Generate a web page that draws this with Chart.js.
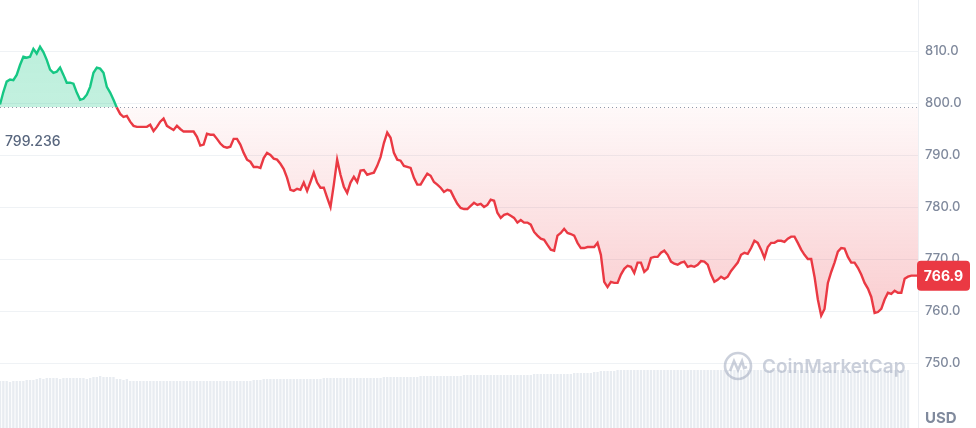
<!DOCTYPE html>
<html>
<head>
<meta charset="utf-8">
<script src="https://cdn.jsdelivr.net/npm/chart.js@4.4.1/dist/chart.umd.min.js"></script>
<style>
  html, body { margin: 0; padding: 0; background: #fff; }
  #wrap { position: relative; width: 976px; height: 428px; }
</style>
</head>
<body>
<div id="wrap"><canvas id="priceChart"></canvas></div>
<script>
// ——— DATA ———
const openPrice = 799.236;
const lastPrice = 766.9;
const currency = 'USD';
const tickValues = [750, 760, 770, 780, 790, 800, 810];
const yMin = 737.6;
const yMax = 819.9;

const prices = [
    799.8, 802.2, 804.2, 804.6, 804.5, 805.5, 807.4, 809.0, 808.8, 809.0, 810.5, 809.6, 810.9, 809.9, 808.4,
    806.5, 805.9, 806.1, 806.9, 805.5, 804.0, 804.0, 803.8, 802.1, 800.7, 800.9, 801.7, 803.2, 805.9, 806.9,
    806.7, 805.9, 803.2, 802.1, 800.7, 799.2, 798.0, 797.4, 797.6, 796.5, 795.7, 795.5, 795.5, 795.5, 795.5,
    795.9, 794.7, 795.5, 796.5, 797.1, 795.7, 795.3, 794.9, 795.7, 795.1, 794.6, 794.6, 794.6, 794.6, 793.6,
    791.9, 792.1, 794.2, 794.0, 794.0, 793.2, 792.3, 791.7, 791.5, 791.7, 793.2, 793.2, 792.1, 790.5, 789.2,
    788.8, 787.8, 787.8, 787.6, 789.5, 790.5, 790.1, 789.4, 789.2, 788.4, 787.4, 785.7, 783.4, 783.2, 783.6,
    783.4, 784.8, 783.2, 784.9, 786.7, 784.8, 783.8, 783.8, 781.9, 780.1, 784.4, 789.2, 786.3, 784.0, 782.8,
    784.8, 785.9, 784.9, 787.1, 787.2, 786.3, 786.5, 786.7, 788.0, 789.7, 792.4, 794.4, 793.4, 790.5, 789.2,
    789.0, 788.0, 787.8, 787.6, 785.7, 784.4, 784.4, 785.5, 786.5, 786.1, 784.9, 784.4, 783.8, 783.0, 783.4,
    783.2, 781.9, 780.7, 779.9, 779.7, 779.7, 780.3, 780.9, 780.5, 780.7, 780.1, 780.5, 781.5, 781.3, 779.0,
    778.0, 778.6, 778.8, 778.4, 778.0, 777.1, 777.6, 777.1, 777.1, 776.7, 775.3, 774.6, 774.0, 773.8, 772.8,
    771.9, 771.7, 774.6, 775.1, 775.9, 775.1, 774.9, 774.6, 773.2, 772.2, 772.2, 772.4, 772.4, 772.4, 773.2,
    770.9, 765.7, 764.7, 765.7, 765.5, 765.5, 767.1, 768.2, 768.8, 768.6, 767.4, 769.4, 769.4, 767.6, 768.2,
    770.3, 770.5, 770.5, 771.3, 771.7, 770.9, 769.6, 769.2, 769.0, 769.4, 769.6, 768.6, 768.8, 768.6, 769.0,
    769.7, 769.6, 769.0, 767.1, 765.7, 766.1, 766.7, 766.3, 766.7, 767.8, 768.6, 769.4, 770.9, 771.3, 771.1,
    772.2, 773.6, 773.2, 771.9, 770.3, 772.4, 773.2, 773.2, 773.6, 773.6, 773.4, 774.0, 774.4, 774.4, 773.2,
    771.9, 770.9, 770.1, 770.1, 766.7, 762.3, 759.2, 760.5, 765.5, 767.6, 769.4, 771.5, 772.2, 772.1, 770.5,
    769.4, 769.4, 768.4, 767.1, 765.5, 764.4, 762.8, 759.7, 759.9, 760.5, 762.3, 763.6, 763.4, 764.0, 763.6,
    763.6, 766.3, 766.7, 766.9, 766.9, 766.9
];

// volume, millions
const volumes = [
    4.7, 4.7, 4.7, 4.6, 4.7, 4.7, 4.7, 4.7, 4.8, 4.8, 4.8, 4.9, 5.0, 4.9, 5.0,
    5.0, 5.0, 5.0, 4.9, 5.0, 5.0, 5.0, 5.0, 5.0, 5.0, 5.0, 4.9, 5.0, 5.1, 5.1,
    5.2, 5.1, 5.1, 5.1, 5.1, 4.9, 4.9, 4.8, 4.9, 4.7, 4.7, 4.7, 4.7, 4.7, 4.7,
    4.7, 4.7, 4.7, 4.7, 4.7, 4.7, 4.7, 4.7, 4.7, 4.7, 4.7, 4.7, 4.7, 4.7, 4.7,
    4.7, 4.7, 4.7, 4.7, 4.7, 4.7, 4.7, 4.7, 4.7, 4.7, 4.7, 4.7, 4.7, 4.7, 4.7,
    4.7, 4.8, 4.8, 4.8, 4.9, 4.9, 4.9, 4.9, 4.9, 4.9, 4.9, 4.9, 4.9, 4.9, 4.9,
    4.9, 4.9, 4.9, 4.9, 4.9, 4.9, 4.9, 5.0, 5.0, 5.0, 5.0, 5.0, 5.0, 5.0, 5.0,
    5.0, 5.0, 5.0, 5.0, 5.0, 5.0, 5.0, 5.0, 5.0, 5.0, 5.1, 5.1, 5.1, 5.1, 5.1,
    5.1, 5.1, 5.1, 5.1, 5.1, 5.1, 5.2, 5.2, 5.2, 5.2, 5.2, 5.2, 5.2, 5.2, 5.2,
    5.2, 5.2, 5.2, 5.2, 5.3, 5.3, 5.3, 5.3, 5.3, 5.3, 5.3, 5.3, 5.3, 5.3, 5.3,
    5.3, 5.3, 5.3, 5.3, 5.3, 5.3, 5.3, 5.3, 5.3, 5.3, 5.4, 5.4, 5.4, 5.4, 5.4,
    5.4, 5.4, 5.4, 5.4, 5.4, 5.4, 5.4, 5.5, 5.5, 5.5, 5.5, 5.5, 5.5, 5.6, 5.6,
    5.7, 5.7, 5.7, 5.7, 5.7, 5.8, 5.8, 5.8, 5.8, 5.8, 5.8, 5.8, 5.8, 5.8, 5.8,
    5.8, 5.8, 5.8, 5.8, 5.8, 5.8, 5.8, 5.8, 5.8, 5.8, 5.8, 5.8, 5.8, 5.8, 5.8,
    5.8, 5.8, 5.8, 5.8, 5.8, 5.8, 5.8, 5.8, 5.8, 5.8, 5.8, 5.8, 5.8, 5.8, 5.8,
    5.8, 5.8, 5.8, 5.8, 5.8, 5.8, 5.8, 5.8, 5.8, 5.8, 5.8, 5.8, 5.8, 5.8, 5.8,
    5.8, 5.8, 5.8, 5.8, 5.8, 5.8, 5.8, 5.8, 5.8, 5.8, 5.8, 5.8, 5.8, 5.8, 5.8,
    5.8, 5.8, 5.8, 5.8, 5.8, 5.8, 5.8, 5.8, 5.8, 5.8, 5.8, 5.8, 5.8, 5.8, 5.8,
    5.8, 5.8, 5.8, null, null, null
];

// 5-minute steps across the day
const times = prices.map((_, i) => {
    const m = i * 5;
    return String(Math.floor(m / 60)).padStart(2, '0') + ':' + String(m % 60).padStart(2, '0');
});

// ——— COLOURS ———
const GREEN = '#16c784';
const RED = '#ea3943';
const GREY = '#808a9d';

function splitGradient(chart, top, bottomColors) {
    const { ctx, chartArea, scales } = chart;
    const g = ctx.createLinearGradient(0, chartArea.top, 0, chartArea.bottom);
    const h = chartArea.bottom - chartArea.top;
    const f = Math.min(Math.max((scales.y.getPixelForValue(openPrice) - chartArea.top) / h, 0), 1);
    const f2 = Math.min(Math.max((scales.y.getPixelForValue(760) - chartArea.top) / h, f), 1);
    g.addColorStop(0, top[0]);
    g.addColorStop(f, top[1]);
    g.addColorStop(f, bottomColors[0]);
    g.addColorStop(f2, bottomColors[1]);
    g.addColorStop(1, bottomColors[2]);
    return g;
}

// ——— OVERLAY ———
const overlay = {
    id: 'overlay',
    afterDatasetsDraw(chart) {
        const { ctx, chartArea, scales } = chart;
        const yb = scales.y.getPixelForValue(openPrice);
        ctx.save();
        // open price dotted line
        ctx.strokeStyle = '#8f98a8';
        ctx.lineWidth = 1;
        ctx.setLineDash([1, 3]);
        ctx.beginPath();
        ctx.moveTo(chartArea.left, Math.round(yb) + 0.5);
        ctx.lineTo(chartArea.right, Math.round(yb) + 0.5);
        ctx.stroke();
        ctx.setLineDash([]);

        // open price label
        ctx.fillStyle = '#58667e';
        ctx.font = '500 14px Inter';
        ctx.textBaseline = 'middle';
        ctx.textAlign = 'left';
        ctx.fillText(openPrice.toString(), chartArea.left + 5, yb + 34);

        // watermark
        const cx = 738, cy = 366;
        ctx.strokeStyle = 'rgba(160,170,190,0.55)';
        ctx.lineWidth = 2.6;
        ctx.beginPath();
        ctx.arc(cx, cy, 13, 0, Math.PI * 2);
        ctx.stroke();
        ctx.beginPath();
        ctx.moveTo(cx - 8, cy + 5);
        ctx.lineTo(cx - 4, cy - 5);
        ctx.lineTo(cx, cy + 4);
        ctx.lineTo(cx + 4, cy - 5);
        ctx.lineTo(cx + 6, cy + 2);
        ctx.lineTo(cx + 9, cy + 1);
        ctx.stroke();
        ctx.fillStyle = 'rgba(160,170,190,0.55)';
        ctx.font = '600 19px Inter';
        ctx.fillText('CoinMarketCap', 762, cy + 1);
        ctx.restore();
    },
    afterDraw(chart) {
        const { ctx, chartArea, scales } = chart;
        const y = scales.y.getPixelForValue(lastPrice);
        ctx.save();
        ctx.fillStyle = RED;
        ctx.beginPath();
        ctx.roundRect(chartArea.right - 1, y - 15, 53, 30, 4);
        ctx.fill();
        ctx.fillStyle = '#fff';
        ctx.font = '700 14px Inter';
        ctx.textAlign = 'center';
        ctx.textBaseline = 'middle';
        ctx.fillText(lastPrice.toFixed(1), chartArea.right + 25.5, y + 1);

        ctx.fillStyle = GREY;
        ctx.font = '700 15px Inter';
        ctx.textAlign = 'left';
        ctx.fillText(currency, chartArea.right + 7, 418);
        ctx.restore();
    }
};

// ——— CHART ———
Chart.defaults.font.family = 'Inter';
new Chart(document.getElementById('priceChart'), {
    data: {
        labels: times,
        datasets: [{
            type: 'line',
            data: prices,
            order: 0,
            borderWidth: 2.4,
            pointRadius: 0,
            tension: 0,
            borderColor: c => c.chart.chartArea
                ? splitGradient(c.chart, [GREEN, GREEN], [RED, RED, RED]) : RED,
            backgroundColor: c => c.chart.chartArea
                ? splitGradient(c.chart, ['rgba(22,199,132,0.30)', 'rgba(22,199,132,0.26)'],
                    ['rgba(234,57,67,0.03)', 'rgba(234,57,67,0.25)', 'rgba(234,57,67,0.3)'])
                : 'transparent',
            fill: { value: openPrice }
        }, {
            type: 'bar',
            data: volumes,
            yAxisID: 'yVol',
            order: 1,
            backgroundColor: '#e8ecf1',
            barPercentage: 0.7,
            categoryPercentage: 1
        }]
    },
    options: {
        responsive: true,
        maintainAspectRatio: false,
        animation: false,
        layout: { padding: 0 },
        plugins: { legend: { display: false }, tooltip: { enabled: false } },
        scales: {
            x: { display: false, offset: false },
            y: {
                position: 'right',
                min: yMin,
                max: yMax,
                afterBuildTicks: axis => { axis.ticks = tickValues.map(v => ({ value: v })); },
                afterFit: axis => {
                    axis.width = 58;
                    axis.paddingTop = 0;
                    axis.paddingBottom = 0;
                },
                grid: { color: '#eff2f5', drawTicks: false },
                border: { color: '#eceff3' },
                ticks: {
                    color: GREY,
                    padding: 7,
                    font: { size: 13, weight: '500' },
                    callback: v => Number(v).toFixed(1)
                }
            },
            yVol: { display: false, min: 0, max: 42.8 }
        }
    },
    plugins: [overlay]
});
</script>
</body>
</html>
